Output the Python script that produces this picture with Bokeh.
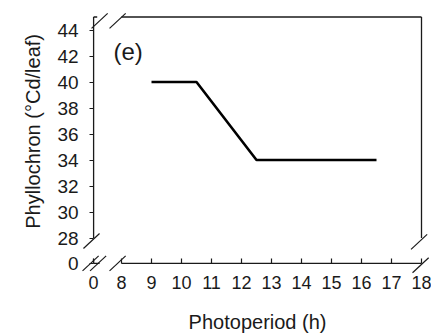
import math
from bokeh.plotting import figure
from bokeh.models import LinearAxis, FixedTicker, Range1d, Label, ColumnDataSource
from bokeh.embed import file_html
from bokeh.resources import INLINE

# ---- data ----
photoperiod = [9, 10.5, 12.5, 16.5]
phyllochron = [40, 40, 34, 34]

x_tick_values = [8, 9, 10, 11, 12, 13, 14, 15, 16, 17, 18]
y_tick_values = [28, 30, 32, 34, 36, 38, 40, 42, 44]
x_title = "Photoperiod (h)"
y_title = "Phyllochron (°Cd/leaf)"
panel_tag = "(e)"

# ---- broken-axis geometry (virtual positions) ----
X0 = 7.07      # where the "0" of the x axis sits (before the break)
XB = 8         # first value after the x break
XE = 18        # right edge of the box
Y0 = 26.05     # where the "0" of the y axis sits (below the break)
YB = 28        # first value after the y break
YE = 45        # top of the box

PX_PER_X = 30.0
PX_PER_Y = 13.0
W, H = 431, 335
x_start = XB - 121 / PX_PER_X
x_end = x_start + W / PX_PER_X
y_end = YB + 237.5 / PX_PER_Y
y_start = y_end - H / PX_PER_Y

FONT = "Liberation Sans"
INK = "#1a1a1a"

p = figure(width=W, height=H, output_backend="svg", toolbar_location=None,
           x_range=Range1d(x_start, x_end), y_range=Range1d(y_start, y_end),
           x_axis_location=None, y_axis_location=None, min_border=0)
p.outline_line_color = None
p.background_fill_color = "white"
p.border_fill_color = "white"
p.grid.visible = False
p.grid.grid_line_color = None

# y axis (ticks + labels) fixed at the x "0" position
yax = LinearAxis(fixed_location=X0, ticker=FixedTicker(ticks=[Y0] + y_tick_values, minor_ticks=[]),
                 major_label_overrides={Y0: "0"}, axis_line_color=None,
                 major_tick_in=0, major_tick_out=4, minor_tick_in=0, minor_tick_out=0,
                 major_tick_line_color=INK, major_tick_line_width=1.2,
                 major_label_standoff=11, major_label_text_font=FONT,
                 major_label_text_font_size="19px", major_label_text_color=INK)
p.add_layout(yax, "left")

xax = LinearAxis(fixed_location=Y0, ticker=FixedTicker(ticks=[X0] + x_tick_values, minor_ticks=[]),
                 major_label_overrides={X0: "0"}, axis_line_color=None,
                 major_tick_in=5, major_tick_out=0, minor_tick_in=0, minor_tick_out=0,
                 major_tick_line_color=INK, major_tick_line_width=1.2,
                 major_label_standoff=13, major_label_text_font=FONT,
                 major_label_text_font_size="18px", major_label_text_color=INK)
p.add_layout(xax, "below")

# axis / frame line pieces
seg = ColumnDataSource(dict(
    x0=[X0, XB, XE, XB, X0, X0, X0],
    y0=[YB, YE, YB, Y0, Y0, Y0, YE],
    x1=[X0, XE, XE, XE, X0 + 0.2, X0, X0 + 0.12],
    y1=[YE, YE, YE, Y0, Y0, Y0 + 0.35, YE],
))
p.segment(x0="x0", y0="y0", x1="x1", y1="y1", source=seg, line_color=INK, line_width=1.3)

# break marks
brk = ColumnDataSource(dict(
    x=[X0 + 0.2, XB - 0.13, X0 - 0.07, X0 - 0.1, X0 + 0.15, XB - 0.13, XE - 0.08, XE - 0.03],
    y=[YE - 0.3, YE - 0.3, YB - 0.23, Y0, Y0, Y0, YB - 0.3, Y0 - 0.15],
))
p.scatter(x="x", y="y", source=brk, marker="dash", size=22, angle=0.75,
          line_color=INK, line_width=1.2)

# data line
p.line(photoperiod, phyllochron, line_color="black", line_width=2.6)

# texts
p.add_layout(Label(x=(X0 + XE) / 2, y=H - 321, y_units="screen", text=x_title,
                   text_align="center", text_baseline="middle",
                   text_font=FONT, text_font_size="20px", text_color=INK))
p.add_layout(Label(x=32, x_units="screen", y=(YB + YE) / 2 - 0.3, text=y_title,
                   angle=math.pi / 2, text_align="center", text_baseline="middle",
                   text_font=FONT, text_font_size="20px", text_color=INK))
p.add_layout(Label(x=113, x_units="screen", y=H - 51, y_units="screen", text=panel_tag,
                   text_align="left", text_baseline="middle",
                   text_font=FONT, text_font_size="24px", text_color=INK))

open("out.html", "w").write(file_html(p, INLINE))
